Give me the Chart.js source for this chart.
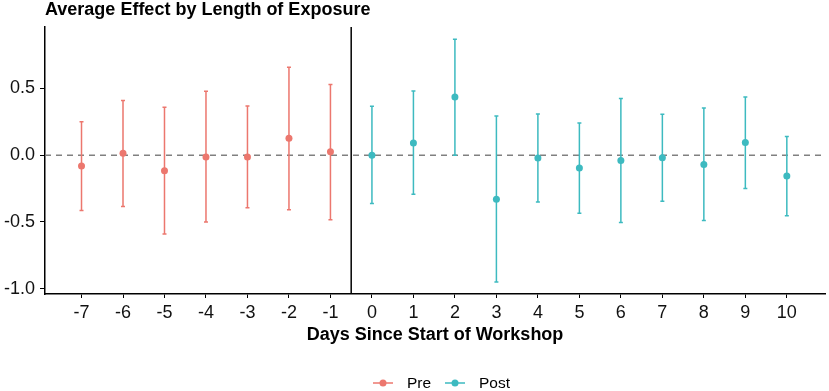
<!DOCTYPE html>
<html>
<head>
<meta charset="utf-8">
<script src="https://cdn.jsdelivr.net/npm/chart.js@4.4.0/dist/chart.umd.min.js"></script>
<style>
  html, body { margin: 0; padding: 0; background: #fff; }
  #wrap { position: relative; width: 829px; height: 391px; }
</style>
</head>
<body>
<div id="wrap"><canvas id="chart"></canvas></div>
<script>
const preDays = [-7, -6, -5, -4, -3, -2, -1];
const preEst  = [-0.082, 0.015, -0.117, -0.013, -0.013, 0.127, 0.025];
const preLo   = [-0.415, -0.385, -0.59, -0.50, -0.393, -0.408, -0.483];
const preHi   = [0.25, 0.41, 0.358, 0.478, 0.368, 0.659, 0.53];

const postDays = [0, 1, 2, 3, 4, 5, 6, 7, 8, 9, 10];
const postEst  = [0.0, 0.092, 0.435, -0.33, -0.022, -0.097, -0.04, -0.02, -0.07, 0.095, -0.157];
const postLo   = [-0.363, -0.293, 0.0, -0.95, -0.35, -0.435, -0.505, -0.346, -0.49, -0.249, -0.453];
const postHi   = [0.366, 0.48, 0.868, 0.293, 0.308, 0.241, 0.425, 0.306, 0.353, 0.435, 0.14];

const xTicks = [-7, -6, -5, -4, -3, -2, -1, 0, 1, 2, 3, 4, 5, 6, 7, 8, 9, 10];
const yTicks = [-1, -0.5, 0, 0.5];

const PRE_COLOR = '#EC776E';
const POST_COLOR = '#3DBAC0';
const FONT = '"Liberation Sans", Arial, sans-serif';

const toPoints = (xs, ys) => xs.map((x, i) => ({ x, y: ys[i] }));

// error bars, reference lines, title and legend drawn with the chart's own scales
const extras = {
  id: 'extras',
  beforeDatasetsDraw(chart) {
    const { ctx, chartArea: a, scales: { x, y } } = chart;
    ctx.save();
    // dashed zero line
    ctx.strokeStyle = '#808080';
    ctx.lineWidth = 1.5;
    ctx.setLineDash([6, 5]);
    ctx.beginPath();
    ctx.moveTo(a.left, y.getPixelForValue(0));
    ctx.lineTo(a.right, y.getPixelForValue(0));
    ctx.stroke();
    ctx.setLineDash([]);
    // pre / post separator
    ctx.strokeStyle = '#000';
    ctx.lineWidth = 1.5;
    const sx = x.getPixelForValue(-0.5);
    ctx.beginPath();
    ctx.moveTo(sx, a.top);
    ctx.lineTo(sx, a.bottom);
    ctx.stroke();

    const bars = (days, lo, hi, color) => {
      ctx.strokeStyle = color;
      ctx.lineWidth = 1.5;
      days.forEach((d, i) => {
        const px = x.getPixelForValue(d);
        const y1 = y.getPixelForValue(lo[i]);
        const y2 = y.getPixelForValue(hi[i]);
        ctx.beginPath();
        ctx.moveTo(px, y1); ctx.lineTo(px, y2);
        ctx.moveTo(px - 2, y1); ctx.lineTo(px + 2, y1);
        ctx.moveTo(px - 2, y2); ctx.lineTo(px + 2, y2);
        ctx.stroke();
      });
    };
    bars(preDays, preLo, preHi, PRE_COLOR);
    bars(postDays, postLo, postHi, POST_COLOR);
    ctx.restore();
  },
  afterDraw(chart) {
    const { ctx, chartArea: a } = chart;
    ctx.save();
    ctx.fillStyle = '#000';
    ctx.textBaseline = 'middle';
    ctx.font = 'bold 18px ' + FONT;
    ctx.textAlign = 'left';
    ctx.fillText('Average Effect by Length of Exposure', a.left, 10);
    ctx.textAlign = 'center';
    ctx.fillText('Days Since Start of Workshop', (a.left + a.right) / 2, 335);

    // legend
    ctx.font = '15.5px ' + FONT;
    ctx.textAlign = 'left';
    const item = (x0, color, label) => {
      ctx.strokeStyle = color;
      ctx.fillStyle = color;
      ctx.lineWidth = 1.5;
      ctx.beginPath();
      ctx.moveTo(x0, 383); ctx.lineTo(x0 + 20, 383);
      ctx.stroke();
      ctx.beginPath();
      ctx.arc(x0 + 10, 383, 3.5, 0, Math.PI * 2);
      ctx.fill();
      ctx.fillStyle = '#000';
      ctx.fillText(label, x0 + 34, 384);
    };
    item(373, PRE_COLOR, 'Pre');
    item(445, POST_COLOR, 'Post');
    ctx.restore();
  }
};

new Chart(document.getElementById('chart'), {
  type: 'scatter',
  data: {
    datasets: [
      {
        label: 'Pre',
        data: toPoints(preDays, preEst),
        backgroundColor: PRE_COLOR,
        borderColor: PRE_COLOR,
        pointRadius: 3.5,
        borderWidth: 0,
      },
      {
        label: 'Post',
        data: toPoints(postDays, postEst),
        backgroundColor: POST_COLOR,
        borderColor: POST_COLOR,
        pointRadius: 3.5,
        borderWidth: 0,
      }
    ]
  },
  options: {
    responsive: true,
    maintainAspectRatio: false,
    animation: false,
    layout: { padding: { top: 27, right: 2, left: 0, bottom: 0 } },
    plugins: {
      legend: { display: false },
      tooltip: { enabled: false },
    },
    scales: {
      x: {
        type: 'linear',
        min: -7.88,
        max: 10.92,
        afterBuildTicks: s => { s.ticks = xTicks.map(v => ({ value: v })); },
        afterFit: s => { s.height = 97; },
        ticks: {
          color: '#111',
          font: { family: FONT, size: 18 },
          padding: 4,
          maxRotation: 0,
          autoSkip: false,
          callback: v => String(v),
        },
        grid: { drawOnChartArea: false, drawTicks: true, tickLength: 4, color: '#000' },
        border: { display: true, color: '#000', width: 1.5 },
      },
      y: {
        min: -1.04,
        max: 0.96,
        afterBuildTicks: s => { s.ticks = yTicks.map(v => ({ value: v })); },
        afterFit: s => { s.width = 45; },
        ticks: {
          color: '#111',
          font: { family: FONT, size: 18 },
          padding: 5,
          callback: v => v.toFixed(1),
        },
        grid: { drawOnChartArea: false, drawTicks: true, tickLength: 5, color: '#000' },
        border: { display: true, color: '#000', width: 1.5 },
      }
    }
  },
  plugins: [extras]
});
</script>
</body>
</html>
